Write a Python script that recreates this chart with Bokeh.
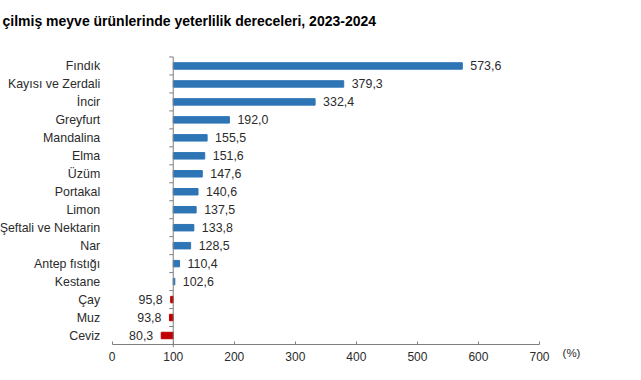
from bokeh.plotting import figure
from bokeh.models import Range1d, FixedTicker, ColumnDataSource
from bokeh.core.properties import value
from bokeh.embed import file_html
from bokeh.resources import INLINE

# ---- data ----
categories = ["Fındık", "Kayısı ve Zerdali", "İncir", "Greyfurt", "Mandalina", "Elma",
              "Üzüm", "Portakal", "Limon", "Şeftali ve Nektarin", "Nar", "Antep fıstığı",
              "Kestane", "Çay", "Muz", "Ceviz"]
values = [573.6, 379.3, 332.4, 192.0, 155.5, 151.6, 147.6, 140.6, 137.5, 133.8,
          128.5, 110.4, 102.6, 95.8, 93.8, 80.3]
baseline = 100
xticks = [0, 100, 200, 300, 400, 500, 600, 700]
title_text = "çilmiş meyve ürünlerinde yeterlilik dereceleri, 2023-2024"
unit_text = "(%)"

# ---- layout constants (pixels) ----
W, H = 640, 378
X0_PX = 111.7          # where value 0 sits horizontally
PX_PER_UNIT = 0.6104   # horizontal scale
ROW_PX = 17.97         # vertical spacing per category
AXIS_PX = 344          # vertical pixel of the x axis line

x_start = -X0_PX / PX_PER_UNIT
x_end = x_start + W / PX_PER_UNIT
y_start = -0.5 - (H - AXIS_PX) / ROW_PX
y_end = -0.5 + AXIS_PX / ROW_PX

def px_x(px):
    return x_start + px / PX_PER_UNIT

def px_y(py):
    return y_end - py / ROW_PX

FONT = "Liberation Sans"
BLUE = "#2e75b6"
RED = "#c00000"
TXT = "#2b2b2b"
AX = "#7f7f7f"

n = len(categories)
ys = [n - 1 - i for i in range(n)]
lefts = [min(v, baseline) for v in values]
rights = [max(v, baseline) for v in values]
colors = [BLUE if v >= baseline else RED for v in values]
vlabels = [f"{v:.1f}".replace(".", ",") for v in values]

src = ColumnDataSource(dict(y=ys, left=lefts, right=rights, color=colors,
                            cat=categories, val=values, lab=vlabels))

p = figure(width=W, height=H, output_backend="svg", toolbar_location=None,
           x_range=Range1d(x_start, x_end), y_range=Range1d(y_start, y_end),
           y_axis_location=None, min_border_left=0, min_border_right=0,
           min_border_top=0, min_border_bottom=0)
p.outline_line_color = None
p.grid.visible = False
p.background_fill_color = "white"

# bars
p.hbar(y="y", left="left", right="right", height=0.36, color="color", source=src)

# vertical base line at 100 with category boundary ticks
p.segment(x0=[baseline], x1=[baseline], y0=[-0.5 - 0.15], y1=[n - 0.5],
          line_color=AX, line_width=1)
bounds_y = [k - 0.5 for k in range(n + 1)]
p.segment(x0=[baseline - 4 / PX_PER_UNIT] * len(bounds_y), x1=[baseline] * len(bounds_y),
          y0=bounds_y, y1=bounds_y, line_color=AX, line_width=1)

# category labels
p.text(x=0, y="y", text="cat", source=src, x_offset=-12, text_align="right",
       text_baseline="middle", text_font=value(FONT), text_font_size="12.4px",
       text_color=TXT)

# value labels
pos = ColumnDataSource(dict(x=[v for v in values if v >= baseline],
                            y=[y for y, v in zip(ys, values) if v >= baseline],
                            t=[l for l, v in zip(vlabels, values) if v >= baseline]))
neg = ColumnDataSource(dict(x=[v for v in values if v < baseline],
                            y=[y for y, v in zip(ys, values) if v < baseline],
                            t=[l for l, v in zip(vlabels, values) if v < baseline]))
p.text(x="x", y="y", text="t", source=pos, x_offset=8, text_align="left",
       text_baseline="middle", text_font=value(FONT), text_font_size="12.4px",
       text_color=TXT)
p.text(x="x", y="y", text="t", source=neg, x_offset=-8, text_align="right",
       text_baseline="middle", text_font=value(FONT), text_font_size="12.4px",
       text_color=TXT)

# x axis, drawn at the category baseline
ax = p.xaxis[0]
ax.fixed_location = -0.5
ax.ticker = FixedTicker(ticks=xticks)
ax.bounds = (xticks[0], xticks[-1])
ax.axis_line_color = AX
ax.major_tick_line_color = AX
ax.major_tick_in = 3
ax.major_tick_out = 0
ax.minor_tick_line_color = None
ax.major_label_standoff = 7
ax.major_label_text_font = FONT
ax.major_label_text_font_size = "12px"
ax.major_label_text_color = TXT

# title
p.text(x=[px_x(2)], y=[px_y(20)], text=[title_text], text_font=value(FONT),
       text_font_size="14px", text_font_style="bold", text_color="#000000",
       text_baseline="middle", text_align="left")

# unit label
p.text(x=[px_x(571)], y=[px_y(352)], text=[unit_text], text_font=value(FONT),
       text_font_size="11.5px", text_color=TXT, text_baseline="middle",
       text_align="center")

open("out.html", "w").write(file_html(p, INLINE))
